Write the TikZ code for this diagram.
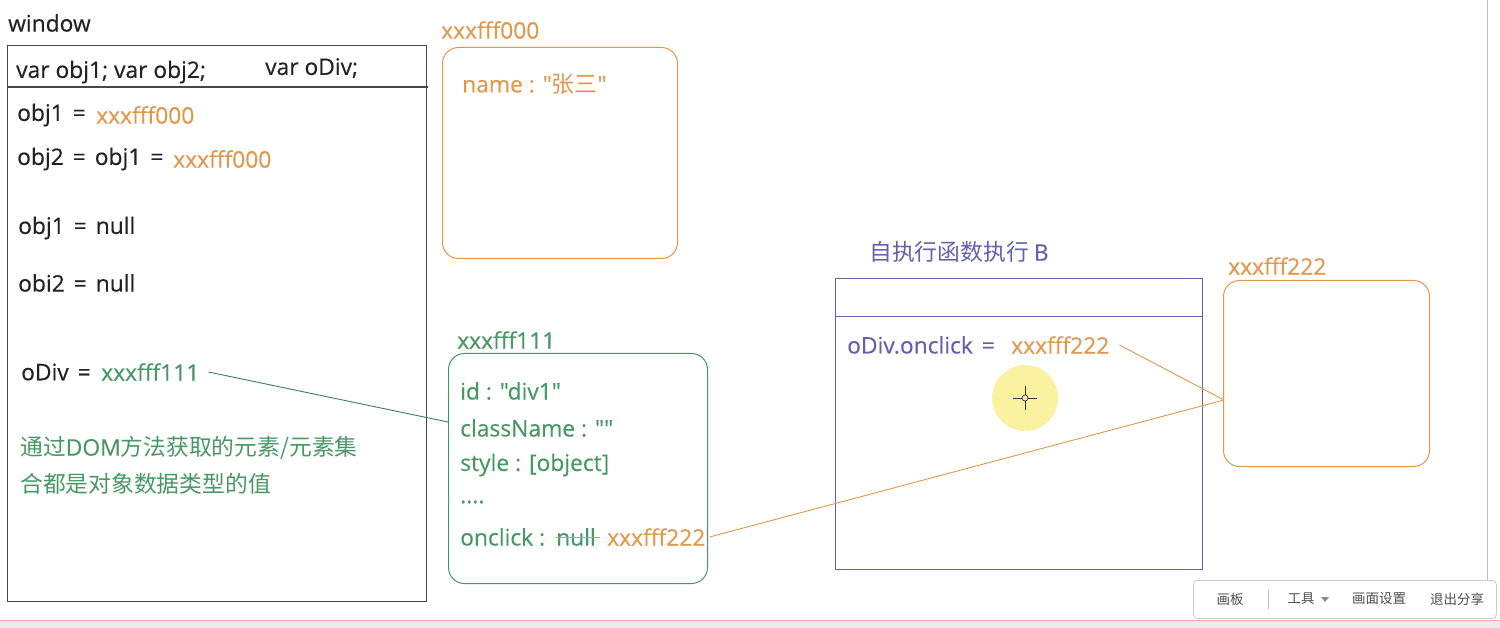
\documentclass[tikz,border=0pt]{standalone}
\usepackage{fontspec}
\newfontfamily\lat{Open Sans}[FakeBold=0.35]
\newfontfamily\cjk{Noto Sans CJK SC}
\newcommand\eqsp{\hspace{9pt}=\hspace{9pt}}
\definecolor{ora}{RGB}{226,152,76}
\definecolor{grn}{RGB}{72,152,102}
\definecolor{pur}{RGB}{98,98,172}
\definecolor{ink}{RGB}{34,34,34}
\definecolor{frame}{RGB}{70,70,70}
\definecolor{hl}{RGB}{250,242,160}
\begin{document}
\begin{tikzpicture}[x=1pt,y=-1pt,
  txt/.style={anchor=west, inner sep=0pt, font=\lat\fontsize{22.8}{26}\selectfont, text=ink},
  ctxt/.style={anchor=west, inner sep=0pt, font=\cjk\fontsize{22.8}{26}\selectfont, text=ink},
  small/.style={anchor=center, inner sep=0pt, font=\cjk\fontsize{13.5}{16}\selectfont, text=ink!80},
  objbox/.style={draw=#1, line width=1pt, rounded corners=16pt, anchor=north west, inner sep=0pt},
  sqbox/.style={draw=#1, line width=1pt, anchor=north west, inner sep=0pt},
  link/.style={draw=#1, line width=0.9pt}]
\useasboundingbox (0,0) rectangle (1500,628);
\fill[white] (0,0) rectangle (1500,628);

% ---------- window ----------
\node[txt] (wlab) at (8,23) {window};
\node[sqbox=frame, line width=1.3pt, minimum width=419pt, minimum height=556pt] (win) at (7,45) {};
\coordinate (wdl) at (7,87);
\coordinate (wdr) at (428,87);
\draw[frame, line width=1.1pt] (wdl) -- (wdr);
\node[txt] (decl1) at (16,72) {var obj1; var obj2;};
\node[txt] (decl2) at (265,68) {var oDiv;};
\node[txt] (l1) at (17,115) {obj1\eqsp};
\node[txt, text=ora] (l1v) at (96,115) {xxxfff000};
\node[txt] (l2) at (17,159) {obj2\eqsp obj1\eqsp};
\node[txt, text=ora] (l2v) at (173,159) {xxxfff000};
\node[txt] (l3) at (18,228) {obj1\eqsp null};
\node[txt] (l4) at (18,283) {obi2\eqsp null};
\node[txt] (l5) at (21,372) {oDiv\eqsp};
\node[txt, text=grn] (l5v) at (101,372) {xxxfff111};
\node[ctxt, text=grn] (note1) at (20,448) {通过{\lat DOM}方法获取的元素/元素集};
\node[ctxt, text=grn] (note2) at (20,484) {合都是对象数据类型的值};

% ---------- object xxxfff000 ----------
\node[txt, text=ora] (olab) at (441,30) {xxxfff000};
\node[objbox=ora, minimum width=235pt, minimum height=211pt] (obox) at (442,47) {};
\node[txt, text=ora] (oname) at (462,84) {name : "{\cjk 张三}"};

% ---------- object xxxfff111 ----------
\node[txt, text=grn] (glab) at (457,340) {xxxfff111};
\node[objbox=grn, minimum width=259pt, minimum height=230pt] (gbox) at (448,353) {};
\node[txt, text=grn] (g1) at (460,391) {id : "div1"};
\node[txt, text=grn] (g2) at (460,428) {className : ""};
\node[txt, text=grn] (g3) at (460,465) {style : [object]};
\node[txt, text=grn] (g4) at (460,502) {....};
\node[txt, text=grn] (g5) at (460,537) {onclick :};
\node[txt, text=grn] (gnull) at (556,537) {null};
\node[txt, text=ora] (g5v) at (607,537) {xxxfff222};
\draw[ora, line width=1pt] (gnull.west) -- ([xshift=4pt]gnull.east);

% ---------- function B ----------
\node[ctxt, text=pur] (flab) at (869,252) {自执行函数执行 {\lat B}};
\node[sqbox=pur, minimum width=367pt, minimum height=291pt] (fbox) at (835,278) {};
\coordinate (fdl) at (835,317);
\coordinate (fdr) at (1202,317);
\draw[pur, line width=1pt] (fdl) -- (fdr);
\node[txt, text=pur] (fcode) at (847,345) {oDiv.onclick\eqsp};
\node[txt, text=ora] (fval) at (1011,345) {xxxfff222};

% cursor highlight
\node[circle, fill=hl, minimum size=66pt, inner sep=0pt] (cur) at (1025,398) {};
\draw[black!80, line width=0.9pt] (1013,398) -- (1037,398) (1025,386) -- (1025,410);
\draw[black!80, fill=hl, line width=0.7pt] (cur.center) circle (3pt);

% ---------- object xxxfff222 ----------
\node[txt, text=ora] (rlab) at (1228,266) {xxxfff222};
\node[objbox=ora, minimum width=206pt, minimum height=186pt] (rbox) at (1223,280) {};

% ---------- connectors ----------
\coordinate (gin) at (448,422);
\draw[link=grn!85!black] ([xshift=9pt]l5v.east) -- (gin);
\coordinate (rin) at (1224,400);
\draw[link=ora] ([xshift=10pt]fval.east) -- (rin);
\draw[link=ora] ([xshift=4pt]g5v.east) -- (rin);

% ---------- screen chrome ----------
\draw[black!25, line width=1pt] (1487,0) -- (1487,580);
\fill[black!8] (0,620) rectangle (1500,628);
\draw[red!35, line width=0.8pt] (0,620) -- (1500,620);
\node[draw=black!20, fill=white, rounded corners=4pt, line width=0.8pt, anchor=north west, minimum width=303pt, minimum height=38pt, inner sep=0pt] (bar) at (1193,580) {};
\node[small] (t1) at (1230,599) {画板};
\draw[black!25, line width=0.8pt] (1268,590) -- (1268,609);
\node[small] (t2) at (1301,599) {工具};
\fill[black!45] (1321,597) -- (1329,597) -- (1325,602) -- cycle;
\node[small] (t3) at (1379,599) {画面设置};
\node[small] (t4) at (1457,599) {退出分享};
\end{tikzpicture}
\end{document}
